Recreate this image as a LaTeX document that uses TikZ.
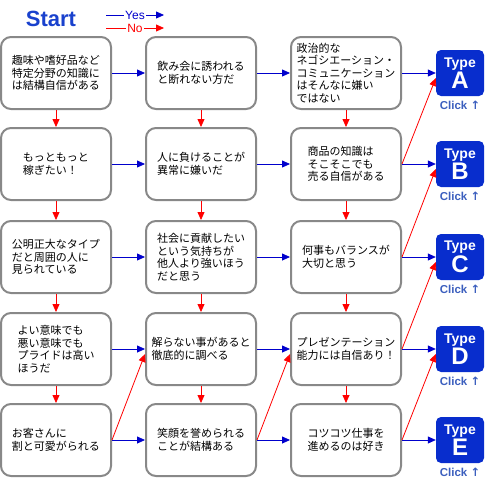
\documentclass[tikz,border=0pt]{standalone}
\usepackage{fontspec}
\setmainfont{Liberation Sans}
\newfontfamily\jpfont{Noto Sans CJK JP}
\newfontfamily\symfont{DejaVu Sans}
\usepackage{tikz}
\usetikzlibrary{arrows.meta}
\usetikzlibrary{positioning}
\usepackage{xcolor}

\definecolor{yesblue}{RGB}{0,0,204}
\definecolor{nored}{RGB}{255,0,0}
\definecolor{boxgray}{RGB}{136,136,136}
\definecolor{typeblue}{RGB}{8,45,205}
\definecolor{startblue}{RGB}{25,65,205}
\definecolor{clickblue}{RGB}{60,95,190}

\tikzset{
	qbox/.style={draw=boxgray,line width=2pt,rounded corners=10pt,fill=white,
		minimum width=110pt,minimum height=72pt,inner sep=0pt,align=left,
		font=\jpfont\fontsize{11}{12.5}\selectfont},
	typebox/.style={fill=typeblue,rounded corners=5pt,minimum width=48pt,
		minimum height=46pt,inner sep=0pt,text=white,align=center},
	clicklabel/.style={text=clickblue,inner sep=0pt,
		font=\bfseries\fontsize{11.5}{11.5}\selectfont},
	yesarrow/.style={draw=yesblue,line width=0.8pt,-{Triangle[length=8pt,width=7pt]}},
	noarrow/.style={draw=nored,line width=0.8pt,-{Triangle[length=8pt,width=7pt]}},
}

\newcommand{\typelabel}[1]{{\bfseries\fontsize{14}{14}\selectfont Type}\\[1pt]{\bfseries\fontsize{24}{22}\selectfont #1}}

\begin{document}
\begin{tikzpicture}[x=1pt,y=-1pt]
		\useasboundingbox (0,0) rectangle (485,490);
		
		% Title and legend
		\node[text=startblue,font=\bfseries\fontsize{22}{22}\selectfont] (start) at (51,19) {Start};
		\coordinate (yesL) at (106,15);
		\coordinate (yesR) at (164,15);
		\coordinate (noL) at (106,28);
		\coordinate (noR) at (164,28);
		\draw[yesarrow] (yesL) -- node[fill=white,inner sep=1pt,text=yesblue,font=\fontsize{12}{12}\selectfont] (yestxt) {Yes} (yesR);
		\draw[noarrow] (noL) -- node[fill=white,inner sep=1pt,text=nored,font=\fontsize{12}{12}\selectfont] (notxt) {No} (noR);
		
		% Column 1
		\node[qbox] (q11) at (56,73) {趣味や嗜好品など\\特定分野の知識に\\は結構自信がある};
		\node[qbox] (q12) at (56,164) {もっともっと\\稼ぎたい！};
		\node[qbox] (q13) at (56,257) {公明正大なタイプ\\だと周囲の人に\\見られている};
		\node[qbox] (q14) at (56,349) {よい意味でも\\悪い意味でも\\プライドは高い\\ほうだ};
		\node[qbox] (q15) at (56,440) {お客さんに\\割と可愛がられる};
		
		% Column 2
		\node[qbox] (q21) at (201,73) {飲み会に誘われる\\と断れない方だ};
		\node[qbox] (q22) at (201,164) {人に負けることが\\異常に嫌いだ};
		\node[qbox] (q23) at (201,257) {社会に貢献したい\\という気持ちが\\他人より強いほう\\だと思う};
		\node[qbox] (q24) at (201,349) {解らない事があると\\徹底的に調べる};
		\node[qbox] (q25) at (201,440) {笑顔を誉められる\\ことが結構ある};
		
		% Column 3
		\node[qbox] (q31) at (346,73) {政治的な\\ネゴシエーション・\\コミュニケーション\\はそんなに嫌い\\ではない};
		\node[qbox] (q32) at (346,164) {商品の知識は\\そこそこでも\\売る自信がある};
		\node[qbox] (q33) at (346,257) {何事もバランスが\\大切と思う};
		\node[qbox] (q34) at (346,349) {プレゼンテーション\\能力には自信あり！};
		\node[qbox] (q35) at (346,440) {コツコツ仕事を\\進めるのは好き};
		
		% Results
		\node[typebox] (tA) at (460,73) {\typelabel{A}};
		\node[typebox] (tB) at (460,164) {\typelabel{B}};
		\node[typebox] (tC) at (460,257) {\typelabel{C}};
		\node[typebox] (tD) at (460,349) {\typelabel{D}};
		\node[typebox] (tE) at (460,440) {\typelabel{E}};
		\node[clicklabel,below=5pt of tA] (cA) {Click {\symfont↑}};
		\node[clicklabel,below=5pt of tB] (cB) {Click {\symfont↑}};
		\node[clicklabel,below=5pt of tC] (cC) {Click {\symfont↑}};
		\node[clicklabel,below=5pt of tD] (cD) {Click {\symfont↑}};
		\node[clicklabel,below=5pt of tE] (cE) {Click {\symfont↑}};
		
		% Yes: to the right
		\draw[yesarrow] (q11) -- (q21); \draw[yesarrow] (q21) -- (q31); \draw[yesarrow] (q31) -- (tA);
		\draw[yesarrow] (q12) -- (q22); \draw[yesarrow] (q22) -- (q32); \draw[yesarrow] (q32) -- (tB);
		\draw[yesarrow] (q13) -- (q23); \draw[yesarrow] (q23) -- (q33); \draw[yesarrow] (q33) -- (tC);
		\draw[yesarrow] (q14) -- (q24); \draw[yesarrow] (q24) -- (q34); \draw[yesarrow] (q34) -- (tD);
		\draw[yesarrow] (q15) -- (q25); \draw[yesarrow] (q25) -- (q35); \draw[yesarrow] (q35) -- (tE);
		
		% No: downwards
		\draw[noarrow] (q11) -- (q12); \draw[noarrow] (q12) -- (q13); \draw[noarrow] (q13) -- (q14); \draw[noarrow] (q14) -- (q15);
		\draw[noarrow] (q21) -- (q22); \draw[noarrow] (q22) -- (q23); \draw[noarrow] (q23) -- (q24); \draw[noarrow] (q24) -- (q25);
		\draw[noarrow] (q31) -- (q32); \draw[noarrow] (q32) -- (q33); \draw[noarrow] (q33) -- (q34); \draw[noarrow] (q34) -- (q35);
		
		% No: up to the next column
		\draw[noarrow] (q15.east) -- ([yshift=-5pt]q24.west);
		\draw[noarrow] (q25.east) -- ([yshift=-5pt]q34.west);
		\draw[noarrow] (q32.east) -- ([yshift=-5pt]tA.west);
		\draw[noarrow] (q33.east) -- ([yshift=-5pt]tB.west);
		\draw[noarrow] (q34.east) -- ([yshift=-5pt]tC.west);
		\draw[noarrow] (q35.east) -- ([yshift=-5pt]tD.west);
		
	\end{tikzpicture}
\end{document}
